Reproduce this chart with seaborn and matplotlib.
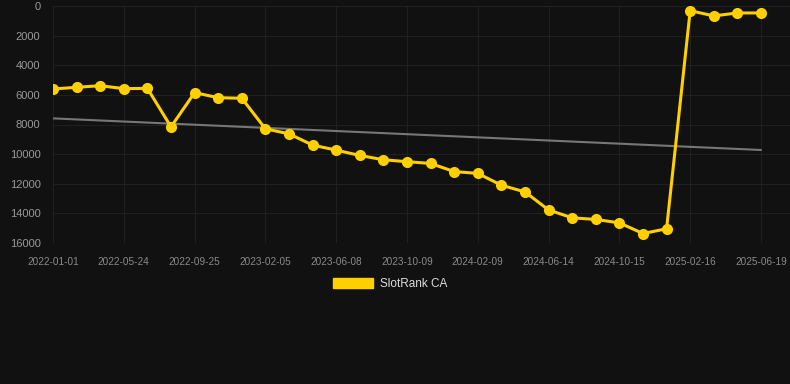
import matplotlib
matplotlib.use("Agg")
import matplotlib.pyplot as plt
import seaborn as sns
import numpy as np
import pandas as pd
from matplotlib.patches import Patch

# ---- data ----
tick_labels = ["2022-01-01", "2022-05-24", "2022-09-25", "2023-02-05", "2023-06-08",
               "2023-10-09", "2024-02-09", "2024-06-14", "2024-10-15", "2025-02-16",
               "2025-06-19"]
rank_values = [5600, 5490, 5380, 5580, 5560, 8160, 5850, 6190, 6230, 8290,
               8630, 9390, 9730, 10090, 10380, 10510, 10630, 11180, 11300, 12100,
               12550, 13770, 14300, 14410, 14640, 15360, 15040, 315, 670, 470, 470]
series_name = "SlotRank CA"
y_ticks = [0, 2000, 4000, 6000, 8000, 10000, 12000, 14000, 16000]

df = pd.DataFrame({"idx": np.arange(len(rank_values)), "rank": rank_values})

sns.set_theme(style="dark")
plt.rcParams['font.family'] = ['Liberation Sans', 'DejaVu Sans']

BG = "#111111"
YELLOW = "#FFD000"
GRID = "#202020"

fig = plt.figure(figsize=(7.9, 3.84), dpi=100, facecolor=BG)
ax = fig.add_axes([53/790, (384-243)/384, 737/790, (243-6)/384])
ax.set_facecolor(BG)

sns.regplot(data=df, x="idx", y="rank", scatter=False, ci=None, ax=ax,
            line_kws=dict(color="#777777", lw=1.5, zorder=2))
sns.lineplot(data=df, x="idx", y="rank", ax=ax, color=YELLOW, lw=2.2,
             marker="o", markersize=8, markeredgewidth=0, zorder=3)

ax.set_xlim(0, 31.23)
ax.set_ylim(16000, 0)
ax.set_yticks(y_ticks)
ax.set_yticklabels([str(v) for v in y_ticks])
ax.set_xticks(np.arange(0, len(rank_values), 3))
ax.set_xticklabels(tick_labels)
ax.set_xlabel("")
ax.set_ylabel("")

ax.grid(True, color=GRID, lw=0.8)
for s in ax.spines.values():
    s.set_visible(False)
ax.tick_params(axis="y", colors="#999999", labelsize=8, length=0, pad=9)
ax.tick_params(axis="x", colors=GRID, labelcolor="#8a8a8a", labelsize=7.2,
               length=5, width=0.8, pad=5)

handle = Patch(facecolor=YELLOW, edgecolor=YELLOW)
leg = fig.legend([handle], [series_name], loc="center", bbox_to_anchor=(390/790, 1 - 284/384),
                 frameon=False, fontsize=8.5, handlelength=3.4, handleheight=0.9,
                 handletextpad=0.6, labelcolor="#dddddd")

fig.savefig("out.png", dpi=100, facecolor=BG)
